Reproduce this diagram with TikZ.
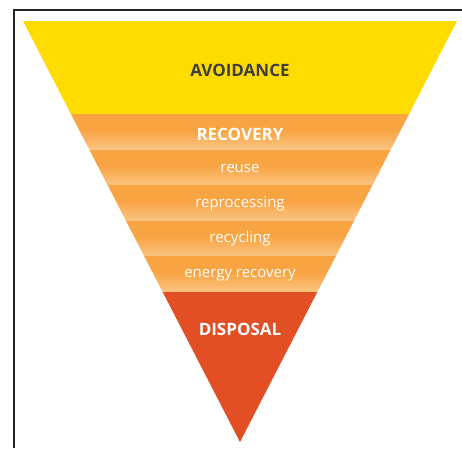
\documentclass[tikz,border=0pt]{standalone}
\usepackage{fontspec}
\setmainfont{Open Sans}
\usepackage{tikz}

\definecolor{avoidyellow}{HTML}{FFDC00}
\definecolor{bandorange}{HTML}{F9A443}
\definecolor{bandlight}{HTML}{FBC482}
\definecolor{disposalred}{HTML}{E34F25}
\definecolor{labelgray}{HTML}{3F3F3F}
\definecolor{framegray}{HTML}{222222}

\begin{document}
\begin{tikzpicture}[x=1pt, y=-1pt,
  every node/.style={anchor=base, inner sep=0pt, text=white, font=\fontsize{15}{18}\selectfont},
  tier/.style={font=\fontsize{17}{20}\selectfont\bfseries},
  fade/.style={top color=bandorange, bottom color=bandlight}]
\useasboundingbox (0,0) rectangle (462,448);
\fill[white] (0,0) rectangle (462,448);
% frame, open to the right and bottom
\draw[framegray, line width=1.8pt] (14,448) |- (462,10);

% inverted triangle, cut into horizontal bands
\begin{scope}
\clip (23,21) -- (457,21) -- (240,442) -- cycle;
\fill[avoidyellow] (0,21) rectangle (462,114);
\foreach \top in {114,149.6,185.2,220.8,256.4} {
  \fill[bandorange] (0,\top) rectangle (462,\top+16);
  \shade[fade] (0,\top+15.8) rectangle (462,\top+35.6);
}
\fill[disposalred] (0,292) rectangle (462,443);
\end{scope}

\node[tier, text=labelgray] (avoid) at (240,76) {AVOIDANCE};
\node[tier] (recov) at (240,140) {RECOVERY};
\node (reuse) at (240,172) {reuse};
\node (reproc) at (240,207) {reprocessing};
\node (recyc) at (240,242) {recycling};
\node (energy) at (240,277) {energy recovery};
\node[tier] (dispo) at (240,335) {DISPOSAL};
\end{tikzpicture}
\end{document}
